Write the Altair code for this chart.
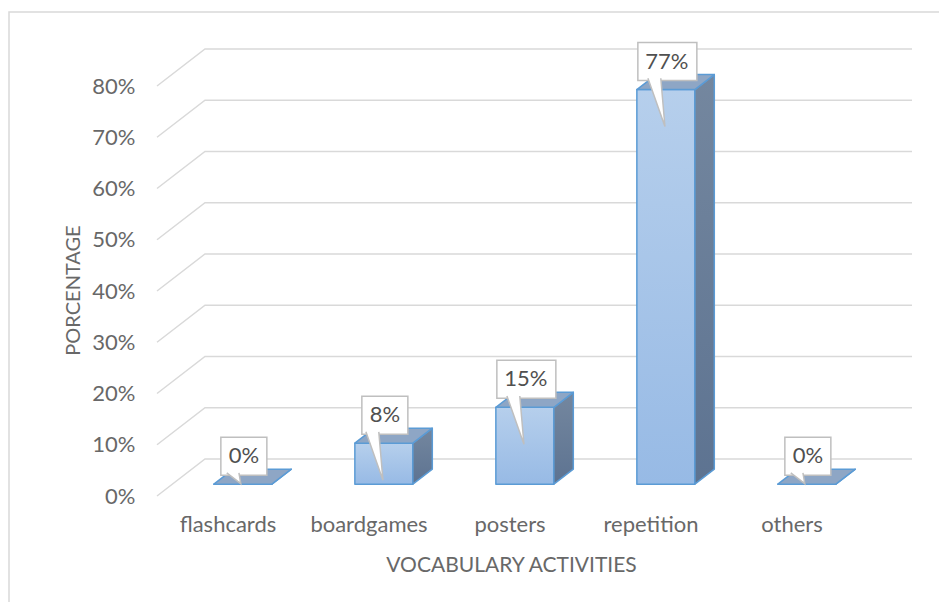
import altair as alt
import pandas as pd

# ---- data ----
categories = ["flashcards", "boardgames", "posters", "repetition", "others"]
values = [0, 8, 15, 77, 0]
value_labels = ["0%", "8%", "15%", "77%", "0%"]
y_ticks = [0, 10, 20, 30, 40, 50, 60, 70, 80]

# ---- 3D geometry (styles, in scale units) ----
PX_PER_CAT = 141.0
PX_PER_PCT = 5.125
PLOT_W, PLOT_H = 755, 456
XMAX = PLOT_W / PX_PER_CAT
YMAX = PLOT_H / PX_PER_PCT
DX = 48 / PX_PER_CAT          # full depth shift in x units
DY = 37 / PX_PER_PCT          # full depth shift in y units
F0, F1 = 0.32, 0.725          # bar front / back depth fraction
HW = 29 / PX_PER_CAT          # bar half width

front, side, topf, lab = [], [], [], []
for i, (c, v, t) in enumerate(zip(categories, values, value_labels)):
    cx = i + 0.5 + F0 * DX
    L, R = cx - HW, cx + HW
    base, top = F0 * DY, v + F0 * DY
    sdx, sdy = (F1 - F0) * DX, (F1 - F0) * DY
    front.append(dict(cat=c, x=L, x2=R, y=base, y2=top))
    side.append(dict(cat=c, x=R, y=base, y2=top))
    side.append(dict(cat=c, x=R + sdx, y=base + sdy, y2=top + sdy))
    topf.append(dict(cat=c, y=top, x=L, x2=R))
    topf.append(dict(cat=c, y=top + sdy, x=L + sdx, x2=R + sdx))
    lab.append(dict(cat=c, value=v, label=t, x=cx, y=top))

grid = []
for k in y_ticks:
    grid.append(dict(k=k, o=0, x=0, y=k))
    grid.append(dict(k=k, o=1, x=DX, y=k + DY))
    grid.append(dict(k=k, o=2, x=XMAX, y=k + DY))

front_df = pd.DataFrame(front)
side_df = pd.DataFrame(side)
top_df = pd.DataFrame(topf)
lab_df = pd.DataFrame(lab)
grid_df = pd.DataFrame(grid)

FONT = "Lato"
GRAY = "#686868"
xs = alt.Scale(domain=[0, XMAX], nice=False, zero=False)
ys = alt.Scale(domain=[0, YMAX], nice=False, zero=False)

label_expr = "[" + ",".join("'%s'" % c for c in categories) + "][floor(datum.value)]"
X_AXIS = alt.Axis(values=[i + 0.5 for i in range(len(categories))], labelExpr=label_expr,
                  title="VOCABULARY ACTIVITIES", domain=False, ticks=False, grid=False,
                  labelPadding=18, titlePadding=19, titleX=354, titleFontSize=21)
Y_AXIS = alt.Axis(values=y_ticks, labelExpr="datum.value + '%'", title="PORCENTAGE",
                  domain=False, ticks=False, grid=False, labelPadding=22, titlePadding=8,
                  titleY=250, titleFontSize=20)


def X(f="x:Q"):
    return alt.X(f, scale=xs, axis=X_AXIS)


def Y(f="y:Q"):
    return alt.Y(f, scale=ys, axis=Y_AXIS)


gridlines = alt.Chart(grid_df).mark_line(color="#d9d9d9", strokeWidth=1.5).encode(
    x=X(), y=Y(), detail="k:N", order="o:Q",
)

front_grad = alt.Gradient(gradient="linear", x1=0, y1=0, x2=0, y2=1,
                          stops=[alt.GradientStop(color="#b6cfec", offset=0),
                                 alt.GradientStop(color="#97bae5", offset=1)])
side_grad = alt.Gradient(gradient="linear", x1=0, y1=0, x2=0, y2=1,
                         stops=[alt.GradientStop(color="#74879f", offset=0),
                                alt.GradientStop(color="#5d7391", offset=1)])
EDGE = dict(stroke="#5b9bd5", strokeWidth=1.5, strokeJoin="round")

front_bars = alt.Chart(front_df).mark_rect(fill=front_grad, **EDGE).encode(
    x=X(), x2="x2:Q", y=Y(), y2="y2:Q",
)

faces = []
for c in categories:
    flt = alt.datum.cat == c
    faces.append(alt.Chart(side_df).transform_filter(flt).mark_area(
        orient="vertical", fill=side_grad, opacity=1, **EDGE).encode(
        x=X(), y=Y(), y2="y2:Q"))
    faces.append(alt.Chart(top_df).transform_filter(flt).mark_area(
        orient="horizontal", fill="#8ea6c5", opacity=1, **EDGE).encode(
        y=Y(), x=X(), x2="x2:Q"))

enc = dict(x=X(), y=Y())
enc_box = dict(x=X(), x2="x:Q", y=Y(), y2="y:Q")
BOX = dict(fill="white", stroke="#bfbfbf", strokeWidth=1.5)

box_short = alt.Chart(lab_df).transform_filter("datum.value < 10").mark_rect(
    xOffset=-22, x2Offset=24, yOffset=-47, y2Offset=-9, **BOX).encode(**enc_box)
box_long = alt.Chart(lab_df).transform_filter("datum.value >= 10").mark_rect(
    xOffset=-28, x2Offset=31, yOffset=-47, y2Offset=-9, **BOX).encode(**enc_box)

TAIL = dict(fill="white", stroke="#bfbfbf", strokeWidth=1.5, filled=True, opacity=1,
            size=46 ** 2, yOffset=-9)
tail_long = alt.Chart(lab_df).transform_filter("datum.value > 0").mark_point(
    shape="M -0.78 -0.1 L -0.04 2 L -0.22 -0.1", **TAIL).encode(**enc)
tail_short = alt.Chart(lab_df).transform_filter("datum.value <= 0").mark_point(
    shape="M -0.7 -0.1 L -0.09 0.37 L -0.17 -0.1", **TAIL).encode(**enc)

texts = alt.Chart(lab_df).mark_text(font=FONT, fontSize=22, color="#505050",
                                    align="center", baseline="middle",
                                    xOffset=1, yOffset=-28).encode(
    text="label:N", **enc)

frame = alt.Chart(pd.DataFrame({"a": [0]})).mark_rect(
    fill=None, stroke="#d9d9d9", strokeWidth=1.5).encode(
    x=alt.value(-148), x2=alt.value(900), y=alt.value(-28), y2=alt.value(700))

chart = alt.layer(
    frame, gridlines, front_bars, *faces,
    box_short, box_long, tail_long, tail_short, texts,
).properties(
    width=PLOT_W, height=PLOT_H,
    autosize=alt.AutoSizeParams(type="none"),
    padding={"left": 149, "top": 32, "right": 27, "bottom": 106},
).configure_view(stroke=None).configure_axis(
    labelFont=FONT, labelFontSize=22, labelColor=GRAY,
    titleFont=FONT, titleColor=GRAY, titleFontWeight="normal",
)

chart.save("out.html", embed_options={"renderer": "svg", "actions": False})
